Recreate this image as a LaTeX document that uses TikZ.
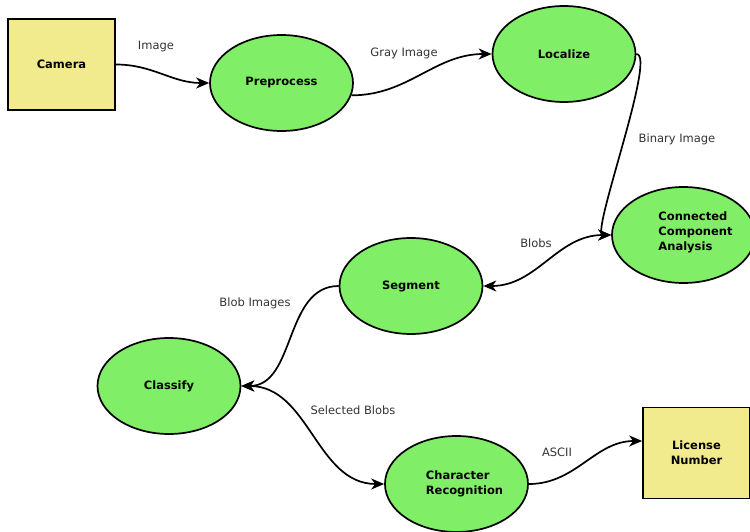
\documentclass[tikz,border=0pt]{standalone}
\usepackage{fontspec}
\setmainfont{DejaVu Sans}
\usetikzlibrary{shapes.geometric,arrows.meta,positioning}

\definecolor{stagegreen}{RGB}{128,238,102}
\definecolor{ioyellow}{RGB}{242,235,142}

\tikzset{
  stage/.style={ellipse,draw,line width=1.7pt,fill=stagegreen,minimum width=143pt,
    minimum height=96pt,inner sep=0pt,font=\bfseries\fontsize{11.5}{15}\selectfont},
  iobox/.style={rectangle,draw,line width=1.7pt,fill=ioyellow,minimum width=107pt,
    minimum height=91pt,inner sep=0pt,align=center,font=\bfseries\fontsize{11.5}{15}\selectfont},
  flow/.style={line width=1.7pt,-{Stealth[length=13pt,width=11pt,inset=4pt]}},
  dflow/.style={line width=1.7pt,{Stealth[length=13pt,width=11pt,inset=4pt]}-{Stealth[length=13pt,width=11pt,inset=4pt]}},
  lbl/.style={text=black!80,font=\fontsize{11.5}{14}\selectfont}
}

\begin{document}
\begin{tikzpicture}[x=1pt,y=-1pt]
  \useasboundingbox (0,0) rectangle (750,532);

  % blocks
  \node[iobox] (cam) at (61.5,64.5) {Camera};
  \node[stage] (pre) at (281.5,83) {Preprocess};
  \node[stage] (loc) at (564,54) {Localize};
  \node[stage,label={[align=left,xshift=12pt,yshift=3pt,font=\bfseries\fontsize{11.5}{15}\selectfont]center:Connected\\Component\\Analysis}] (cca) at (683.5,235) {};
  \node[stage] (seg) at (411,286) {Segment};
  \node[stage] (cls) at (169,386) {Classify};
  \node[stage,label={[align=left,xshift=8pt,font=\bfseries\fontsize{11.5}{15}\selectfont]center:Character\\Recognition}] (chr) at (456.5,484) {};
  \node[iobox] (lic) at (696.5,453) {License\\Number};

  % connectors
  \draw[flow] (cam.east) to[out=0,in=180] (pre.west);
  \draw[flow] (pre.-10) to[out=0,in=180] (loc.west);
  \draw[flow] (loc.east) .. controls +(21,0) and +(-21,0) .. (cca.west);
  \draw[dflow] (cca.west) to[out=180,in=0] (seg.east);
  \draw[flow] (seg.west) to[out=180,in=0] (cls.east);
  \draw[dflow] (cls.east) to[out=0,in=180] (chr.west);
  \draw[flow] (chr.east) to[out=0,in=180] ([yshift=12pt]lic.west);

  % labels
  \node[lbl] (limage) at (156,47) {Image};
  \node[lbl] (lgray) at (404,53) {Gray Image};
  \node[lbl] (lbinary) at (677,139) {Binary Image};
  \node[lbl] (lblobs) at (536,243) {Blobs};
  \node[lbl] (lblobimg) at (255,303) {Blob Images};
  \node[lbl] (lselected) at (353,410) {Selected Blobs};
  \node[lbl] (lascii) at (557,452) {ASCII};
\end{tikzpicture}
\end{document}
